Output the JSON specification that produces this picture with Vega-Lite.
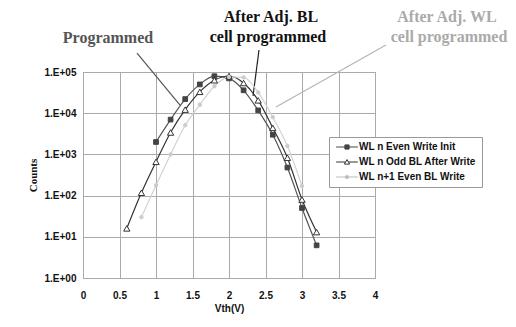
{
  "$schema": "https://vega.github.io/schema/vega-lite/v6.json",
  "width": 292,
  "height": 206,
  "autosize": {"type": "none"},
  "padding": {"left": 83, "top": 72, "right": 141, "bottom": 49},
  "background": "white",
  "config": {"view": {"stroke": "#999999", "strokeWidth": 1}},
  "datasets": {
    "series": [
      {"s": "WL n Even Write Init", "x": 1.0, "y": 2000},
      {"s": "WL n Even Write Init", "x": 1.2, "y": 7000},
      {"s": "WL n Even Write Init", "x": 1.4, "y": 22000},
      {"s": "WL n Even Write Init", "x": 1.6, "y": 50000},
      {"s": "WL n Even Write Init", "x": 1.8, "y": 79000},
      {"s": "WL n Even Write Init", "x": 2.0, "y": 70000},
      {"s": "WL n Even Write Init", "x": 2.2, "y": 36000},
      {"s": "WL n Even Write Init", "x": 2.4, "y": 11700},
      {"s": "WL n Even Write Init", "x": 2.6, "y": 3000},
      {"s": "WL n Even Write Init", "x": 2.8, "y": 480},
      {"s": "WL n Even Write Init", "x": 3.0, "y": 50},
      {"s": "WL n Even Write Init", "x": 3.2, "y": 6.2},
      {"s": "WL n Odd BL After Write", "x": 0.6, "y": 16},
      {"s": "WL n Odd BL After Write", "x": 0.8, "y": 117},
      {"s": "WL n Odd BL After Write", "x": 1.0, "y": 660},
      {"s": "WL n Odd BL After Write", "x": 1.2, "y": 3400},
      {"s": "WL n Odd BL After Write", "x": 1.4, "y": 12200},
      {"s": "WL n Odd BL After Write", "x": 1.6, "y": 33000},
      {"s": "WL n Odd BL After Write", "x": 1.8, "y": 63000},
      {"s": "WL n Odd BL After Write", "x": 2.0, "y": 80000},
      {"s": "WL n Odd BL After Write", "x": 2.2, "y": 54000},
      {"s": "WL n Odd BL After Write", "x": 2.4, "y": 20500},
      {"s": "WL n Odd BL After Write", "x": 2.6, "y": 4400},
      {"s": "WL n Odd BL After Write", "x": 2.8, "y": 830},
      {"s": "WL n Odd BL After Write", "x": 3.0, "y": 80},
      {"s": "WL n Odd BL After Write", "x": 3.2, "y": 13},
      {"s": "WL n+1 Even BL Write", "x": 0.8, "y": 30},
      {"s": "WL n+1 Even BL Write", "x": 1.0, "y": 178},
      {"s": "WL n+1 Even BL Write", "x": 1.2, "y": 1000},
      {"s": "WL n+1 Even BL Write", "x": 1.4, "y": 5100},
      {"s": "WL n+1 Even BL Write", "x": 1.6, "y": 16000},
      {"s": "WL n+1 Even BL Write", "x": 1.8, "y": 45000},
      {"s": "WL n+1 Even BL Write", "x": 2.0, "y": 76000},
      {"s": "WL n+1 Even BL Write", "x": 2.2, "y": 74000},
      {"s": "WL n+1 Even BL Write", "x": 2.4, "y": 32000},
      {"s": "WL n+1 Even BL Write", "x": 2.6, "y": 8000},
      {"s": "WL n+1 Even BL Write", "x": 2.8, "y": 1600},
      {"s": "WL n+1 Even BL Write", "x": 3.0, "y": 170}
    ],
    "notes": [
      {"who": "P", "x": 0.342, "y": 668000, "t": "Programmed"},
      {"who": "BL", "x": 2.575, "y": 2160000, "t": "After Adj. BL"},
      {"who": "BL", "x": 2.534, "y": 708000, "t": "cell programmed"},
      {"who": "WL", "x": 4.986, "y": 2160000, "t": "After Adj. WL"},
      {"who": "WL", "x": 5.014, "y": 708000, "t": "cell programmed"}
    ],
    "leaders": [
      {"who": "P", "x": 0.74, "y": 289000, "x2": 1.329, "y2": 15800},
      {"who": "BL", "x": 2.411, "y": 342000, "x2": 2.329, "y2": 26100},
      {"who": "WL", "x": 4.15, "y": 452000, "x2": 2.644, "y2": 14100}
    ]
  },
  "encoding": {
    "x": {
      "field": "x", "type": "quantitative",
      "scale": {"domain": [0, 4], "nice": false, "zero": false},
      "axis": {
        "title": "Vth(V)", "values": [0, 0.5, 1, 1.5, 2, 2.5, 3, 3.5, 4], "format": "~g",
        "grid": true, "gridColor": "#aaaaaa", "gridOpacity": 1, "domain": false, "ticks": false,
        "labelFlush": false, "labelOverlap": false, "labelPadding": 12,
        "labelFont": "Liberation Sans", "labelFontWeight": "bold", "labelFontSize": 10, "labelColor": "#111111",
        "titleFont": "Liberation Sans", "titleFontWeight": "bold", "titleFontSize": 10, "titleColor": "#111111", "titlePadding": 3
      }
    },
    "y": {
      "field": "y", "type": "quantitative",
      "scale": {"type": "log", "domain": [1, 100000], "nice": false},
      "axis": {
        "title": "Counts", "values": [1, 10, 100, 1000, 10000, 100000],
        "labelExpr": "'1.E+0' + round(log(datum.value) / LN10)",
        "grid": true, "gridColor": "#aaaaaa", "gridOpacity": 1, "domain": false, "ticks": false,
        "labelFlush": false, "labelOverlap": false, "labelPadding": 7,
        "labelFont": "Liberation Sans", "labelFontWeight": "bold", "labelFontSize": 10, "labelColor": "#111111",
        "titleFont": "Liberation Serif", "titleFontWeight": "bold", "titleFontSize": 11, "titleColor": "#111111", "titlePadding": 6
      }
    }
  },
  "layer": [
    {
      "data": {"values": [{}]},
      "mark": {"type": "rect", "filled": false, "stroke": "#d4d4d4", "strokeWidth": 1},
      "encoding": {
        "x": {"datum": -0.932, "type": "quantitative"},
        "x2": {"datum": 5.37},
        "y": {"datum": 289000, "type": "quantitative"},
        "y2": {"datum": 0.1265}
      }
    },
    {
      "data": {"name": "leaders"},
      "mark": {"type": "rule", "strokeWidth": 1.2},
      "encoding": {
        "x2": {"field": "x2"},
        "y2": {"field": "y2"},
        "color": {"field": "who", "type": "nominal", "scale": {"domain": ["P", "BL", "WL"], "range": ["#555555", "#222222", "#b4b4b4"]}, "legend": null}
      }
    },
    {
      "data": {"name": "notes"},
      "mark": {"type": "text", "font": "Liberation Serif", "fontWeight": "bold", "fontSize": 16, "align": "center", "baseline": "middle"},
      "encoding": {
        "text": {"field": "t"},
        "color": {"field": "who", "type": "nominal", "scale": {"domain": ["P", "BL", "WL"], "range": ["#555555", "#111111", "#aaaaaa"]}, "legend": null}
      }
    },
    {
      "data": {"name": "series"},
      "mark": {"type": "line", "interpolate": "monotone", "strokeWidth": 1.2},
      "encoding": {
        "color": {"field": "s", "type": "nominal", "scale": {"domain": ["WL n+1 Even BL Write", "WL n Even Write Init", "WL n Odd BL After Write"], "range": ["#d2d2d2", "#555555", "#333333"]}, "legend": null},
        "order": {"field": "x"}
      }
    },
    {
      "data": {"name": "series"},
      "mark": {"type": "point", "opacity": 1, "strokeWidth": 1},
      "encoding": {
        "color": {"field": "s", "type": "nominal", "scale": {"domain": ["WL n Even Write Init", "WL n Odd BL After Write", "WL n+1 Even BL Write"], "range": ["#444444", "#333333", "#cccccc"]}, "legend": null},
        "fill": {"field": "s", "type": "nominal", "scale": {"domain": ["WL n Even Write Init", "WL n Odd BL After Write", "WL n+1 Even BL Write"], "range": ["#444444", "#ffffff", "#cccccc"]}, "legend": null},
        "shape": {"field": "s", "type": "nominal", "scale": {"domain": ["WL n Even Write Init", "WL n Odd BL After Write", "WL n+1 Even BL Write"], "range": ["square", "triangle-up", "circle"]}, "legend": null},
        "size": {"field": "s", "type": "nominal", "scale": {"type": "ordinal", "domain": ["WL n Even Write Init", "WL n Odd BL After Write", "WL n+1 Even BL Write"], "range": [22, 40, 12]}, "legend": null}
      }
    },
    {
      "data": {"name": "series"},
      "transform": [{"filter": "datum.x > 100"}],
      "mark": {"type": "point", "opacity": 1, "strokeWidth": 1},
      "encoding": {
        "color": {"field": "s", "type": "nominal", "scale": {"domain": ["WL n Even Write Init", "WL n Odd BL After Write", "WL n+1 Even BL Write"], "range": ["#444444", "#333333", "#bbbbbb"]}, "legend": {"title": null}},
        "fill": {"field": "s", "type": "nominal", "scale": {"domain": ["WL n Even Write Init", "WL n Odd BL After Write", "WL n+1 Even BL Write"], "range": ["#444444", "#ffffff", "#bbbbbb"]}, "legend": {"title": null}},
        "shape": {
          "field": "s", "type": "nominal",
          "scale": {"domain": ["WL n Even Write Init", "WL n Odd BL After Write", "WL n+1 Even BL Write"], "range": ["M-3.1,0H3.1M-0.6,-0.6H0.6V0.6H-0.6Z", "M-3.1,0H-0.4M0.4,0H3.1M0,-0.7L0.75,0.6H-0.75Z", "M-3.1,0H3.1M-0.35,-0.35H0.35V0.35H-0.35Z"]},
          "legend": {
            "title": null, "orient": "none", "legendX": 246, "legendY": 65,
            "strokeColor": "#999999", "fillColor": "#ffffff", "padding": 5,
            "labelFont": "Liberation Sans", "labelFontWeight": "bold", "labelFontSize": 10, "labelColor": "#111111",
            "symbolSize": 49, "symbolStrokeWidth": 1, "symbolOpacity": 1, "rowPadding": 5, "symbolOffset": 8, "labelOffset": 7
          }
        }
      }
    }
  ],
  "resolve": {"scale": {"color": "independent", "fill": "independent", "shape": "independent", "size": "independent"}}
}
